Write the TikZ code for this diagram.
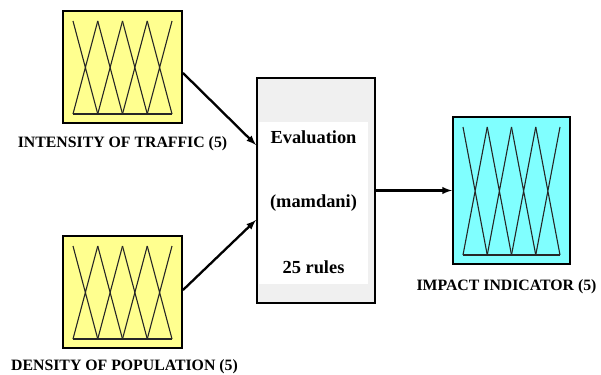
\documentclass[tikz,border=0pt]{standalone}
\usepackage{fontspec}
\setmainfont{Liberation Serif}
\usetikzlibrary{calc, positioning}
\definecolor{fisyellow}{RGB}{255,255,143}
\definecolor{fiscyan}{RGB}{128,255,255}
\definecolor{fisgray}{RGB}{240,240,240}

\begin{document}
\begin{tikzpicture}[x=1pt,y=-1pt,
fis/.style={draw,line width=2pt,inner sep=0pt,minimum width=119pt,minimum height=112pt},
mf/.style={line width=1.1pt,black!85},
lab/.style={font=\fontsize{15.8}{18}\selectfont\bfseries,inner sep=0pt},
evtxt/.style={font=\fontsize{18.4}{22}\selectfont\bfseries,inner sep=0pt},
link/.style={line width=2.3pt,-latex}]
 \useasboundingbox (0,0) rectangle (601,374);

 \node[fis,fill=fisyellow] (traffic) at (122.5,67) {};
 \node[fis,fill=fisyellow] (density) at (122.5,292) {};
 \node[fis,fill=fisgray,minimum width=118pt,minimum height=225pt] (eval) at (316,190.5) {};
 \node[fis,fill=fiscyan,minimum width=117pt,minimum height=147pt] (impact) at (511.5,190.5) {};

 \fill[white] ($(eval.north west)+(3,45)$) rectangle ($(eval.south east)+(-8,-20)$);
 \node[evtxt] (evname) at (313.5,137) {Evaluation};
 \node[evtxt] (evtype) at (313.5,203) {(mamdani)};
 \node[evtxt] (evrules) at (313.5,267) {25 rules};

 % membership functions
 \foreach \B in {traffic,density,impact} {
 \path (\B.north west) ++(11,11) coordinate (\B-tl)
 (\B.south east) ++(-11,-10) coordinate (\B-br);
 \path (\B-tl -| \B-br) coordinate (\B-tr) (\B-tl |- \B-br) coordinate (\B-bl);
 \draw[mf] (\B-bl) -- (\B-br);
 \foreach \i [count=\j from 1] in {0,...,3}
 \draw[mf] ($(\B-tl)!\i/4!(\B-tr)$) -- ($(\B-bl)!\j/4!(\B-br)$)
 ($(\B-bl)!\i/4!(\B-br)$) -- ($(\B-tl)!\j/4!(\B-tr)$);
 }

 \node[lab,below=12pt of traffic] (trafficlab) {INTENSITY OF TRAFFIC (5)};
 \node[lab,below=10pt of density,xshift=2pt] (densitylab) {DENSITY OF POPULATION (5)};
 \node[lab,below=14pt of impact,xshift=-5pt] (impactlab) {IMPACT INDICATOR (5)};

 \draw[link] ([yshift=-6pt]traffic.east) -- ([yshift=45.5pt]eval.west);
 \draw[link] ([yshift=2pt]density.east) -- ([yshift=-29.5pt]eval.west);
 \draw[link] (eval.east) -- (impact.west);

\end{tikzpicture}
\end{document}
